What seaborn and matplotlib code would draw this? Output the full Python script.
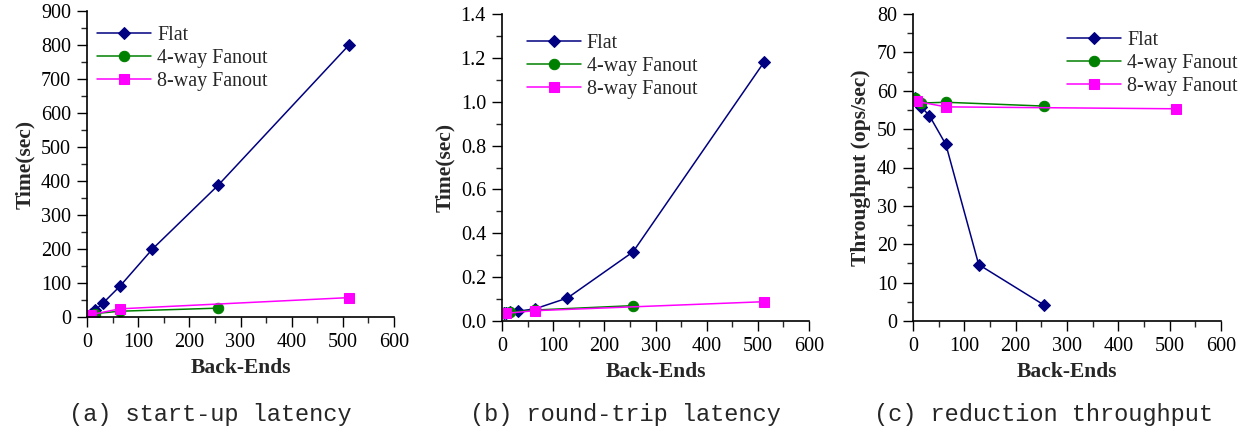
import numpy as np
import pandas as pd
import matplotlib
matplotlib.use("Agg")
import matplotlib.pyplot as plt
from matplotlib.ticker import MultipleLocator, FormatStrFormatter
import seaborn as sns

series_names = ["Flat", "4-way Fanout", "8-way Fanout"]

flat_x = [4, 8, 16, 32, 64, 128, 256, 512]
fan4_x = [4, 16, 64, 256]
fan8_x = [8, 64, 512]

# (a) start-up latency (sec)
startup_flat = [4, 9, 20, 42, 90, 200, 387, 800]
startup_fan4 = [2, 10, 17, 26]
startup_fan8 = [7, 24, 57]

# (b) round-trip latency (sec)
rtt_flat = [0.035, 0.037, 0.040, 0.045, 0.055, 0.105, 0.315, 1.18]
rtt_fan4 = [0.035, 0.040, 0.050, 0.070]
rtt_fan8 = [0.035, 0.047, 0.088]

# (c) reduction throughput (ops/sec)
thr_flat_x = [4, 8, 16, 32, 64, 128, 256]
thr_flat = [58.0, 57.5, 55.8, 53.5, 46.0, 14.7, 4.1]
thr_fan4 = [58.0, 56.8, 57.0, 56.0]
thr_fan8 = [57.2, 55.8, 55.3]

captions = ["(a) start-up latency", "(b) round-trip latency", "(c) reduction throughput"]
ylabels = ["Time(sec)", "Time(sec)", "Throughput (ops/sec)"]
xlabel = "Back-Ends"

colors = {"Flat": "#000080", "4-way Fanout": "#008000", "8-way Fanout": "#FF00FF"}
markers = {"Flat": "D", "4-way Fanout": "o", "8-way Fanout": "s"}
msizes = {"Flat": 6, "4-way Fanout": 7.5, "8-way Fanout": 7.5}


def make_df(fx, fy, f4x, f4y, f8x, f8y):
    rows = []
    for n, xs, ys in [("Flat", fx, fy), ("4-way Fanout", f4x, f4y), ("8-way Fanout", f8x, f8y)]:
        for x, y in zip(xs, ys):
            rows.append({"x": x, "y": y, "series": n})
    return pd.DataFrame(rows)


dfs = [
    make_df(flat_x, startup_flat, fan4_x, startup_fan4, fan8_x, startup_fan8),
    make_df(flat_x, rtt_flat, fan4_x, rtt_fan4, fan8_x, rtt_fan8),
    make_df(thr_flat_x, thr_flat, fan4_x, thr_fan4, fan8_x, thr_fan8),
]

sns.set_theme(style="ticks")
plt.rcParams["font.family"] = ["Liberation Serif", "DejaVu Serif"]

fig = plt.figure(figsize=(12.46, 4.28), dpi=100)
W, H = 1246, 428
# axes boxes in pixels: left, right, top, bottom
boxes = [(87, 394, 11, 317), (502, 809, 14, 321), (913, 1221, 14, 321)]
ylims = [(0, 900), (0, 1.4), (0, 80)]
ymaj = [100, 0.2, 10]
ymin_ = [50, 0.1, 5]
yfmt = [None, "%.1f", None]
cap_x = [210, 625, 1043]
legend_anchor = [(0.033, 0.952), (0.081, 0.935), (0.50, 0.944)]

for i, df in enumerate(dfs):
    l, r, t, b = boxes[i]
    ax = fig.add_axes([l / W, 1 - b / H, (r - l) / W, (b - t) / H])
    for n in series_names:
        d = df[df["series"] == n]
        sns.lineplot(data=d, x="x", y="y", ax=ax, color=colors[n], marker=markers[n],
                     markersize=msizes[n], markeredgecolor=colors[n], linewidth=1.1,
                     label=n, estimator=None, sort=False)
    ax.set_xlim(0, 600)
    ax.set_ylim(*ylims[i])
    ax.xaxis.set_major_locator(MultipleLocator(100))
    ax.xaxis.set_minor_locator(MultipleLocator(50))
    ax.yaxis.set_major_locator(MultipleLocator(ymaj[i]))
    ax.yaxis.set_minor_locator(MultipleLocator(ymin_[i]))
    if yfmt[i]:
        ax.yaxis.set_major_formatter(FormatStrFormatter(yfmt[i]))
    ax.tick_params(axis="both", which="major", direction="out", length=7.5, width=1,
                   labelsize=14.5, colors="black", pad=4)
    ax.tick_params(axis="both", which="minor", direction="out", length=4, width=1)
    for s in ["top", "right"]:
        ax.spines[s].set_visible(False)
    for s in ["left", "bottom"]:
        ax.spines[s].set_color("black")
        ax.spines[s].set_linewidth(1.2)
    ax.set_xlabel(xlabel, fontsize=15.5, fontweight="bold", labelpad=4)
    ax.set_ylabel(ylabels[i], fontsize=15.5, fontweight="bold", labelpad=4)
    ax.legend(loc="upper left", bbox_to_anchor=legend_anchor[i], frameon=False,
              fontsize=14.4, handlelength=2.7, handletextpad=0.3, labelspacing=0.2,
              borderaxespad=0, borderpad=0)
    fig.text(cap_x[i] / W, 1 - 414 / H, captions[i], ha="center", va="center",
             fontsize=17, family="Liberation Mono")

fig.savefig("out.png", dpi=100)
